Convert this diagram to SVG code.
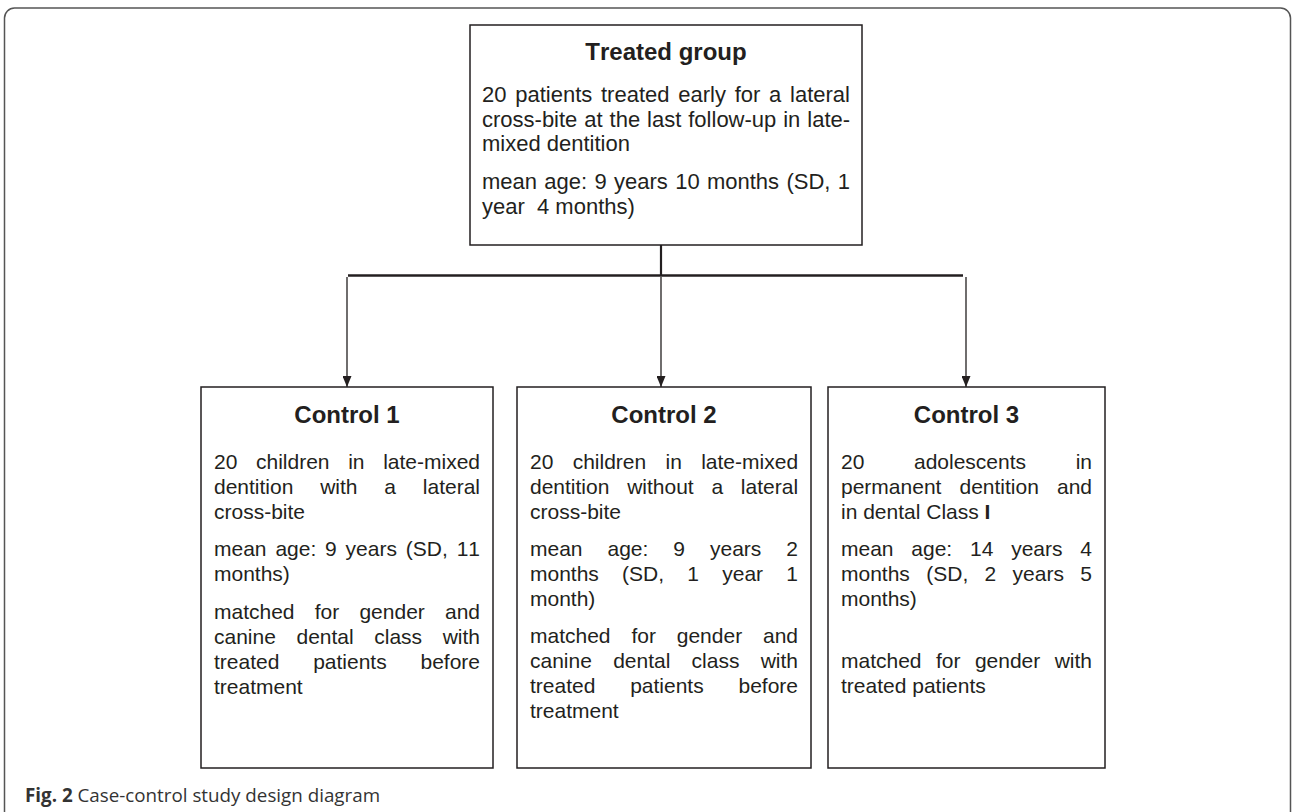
<svg xmlns="http://www.w3.org/2000/svg" width="1292" height="812" viewBox="0 0 1292 812">
<defs>
<marker id="ah" markerUnits="userSpaceOnUse" markerWidth="11" markerHeight="9" refX="11" refY="4.5" orient="auto">
<path d="M0,0 L11,4.5 L0,9 z" fill="#231f20"/>
</marker>
<style>
.box{fill:#fff;stroke:#231f20;stroke-width:1.5}
.t{font-family:"Liberation Sans",Arial,sans-serif;font-weight:bold;font-size:24px;fill:#231f20;text-anchor:middle;font-kerning:none}
.b{font-family:"Liberation Sans",Arial,sans-serif;font-size:21px;fill:#231f20;font-kerning:none}
.b22{font-family:"Liberation Sans",Arial,sans-serif;font-size:22px;fill:#231f20;font-kerning:none}
.cn{stroke:#231f20;fill:none}
.cap{font-family:"Open Sans","Noto Sans",sans-serif;font-size:18.8px;fill:#333}
</style>
</defs>
<rect x="4.5" y="8" width="1286" height="820" rx="10" fill="#fff" stroke="#555" stroke-width="1.5"/>
<g id="connectors">
<line class="cn" x1="661" y1="245" x2="661" y2="276" stroke-width="2.2"/>
<line class="cn" x1="348" y1="275.5" x2="963" y2="275.5" stroke-width="2.6"/>
<line class="cn" x1="347" y1="277" x2="347" y2="387" stroke-width="1.3" marker-end="url(#ah)"/>
<line class="cn" x1="661" y1="277" x2="661" y2="387" stroke-width="1.3" marker-end="url(#ah)"/>
<line class="cn" x1="966" y1="277" x2="966" y2="387" stroke-width="1.3" marker-end="url(#ah)"/>
</g>
<g id="treated">
<rect class="box" x="470" y="25" width="392" height="220"/>
<text class="t" x="666" y="60">Treated group</text>
<text class="b22" x="482" y="102" word-spacing="2.63">20 patients treated early for a lateral</text>
<text class="b22" x="482" y="127" word-spacing="0.82">cross-bite at the last follow-up in late-</text>
<text class="b22" x="482" y="151">mixed dentition</text>
<text class="b22" x="482" y="189" word-spacing="1.21">mean age: 9 years 10 months (SD, 1</text>
<text class="b22" x="482" y="214">year&#160; 4 months)</text>
</g>
<g id="control1">
<rect class="box" x="201" y="387" width="292" height="381"/>
<text class="t" x="347" y="423">Control 1</text>
<text class="b" x="214" y="469" word-spacing="12.81">20 children in late-mixed</text>
<text class="b" x="214" y="494" word-spacing="20.97">dentition with a lateral</text>
<text class="b" x="214" y="519">cross-bite</text>
<text class="b" x="214" y="556" word-spacing="3.01">mean age: 9 years (SD, 11</text>
<text class="b" x="214" y="581">months)</text>
<text class="b" x="214" y="619" word-spacing="14.35">matched for gender and</text>
<text class="b" x="214" y="644" word-spacing="14.75">canine dental class with</text>
<text class="b" x="214" y="669" word-spacing="27.94">treated patients before</text>
<text class="b" x="214" y="694">treatment</text>
</g>
<g id="control2">
<rect class="box" x="517" y="387" width="294" height="381"/>
<text class="t" x="664" y="423">Control 2</text>
<text class="b" x="530" y="469" word-spacing="13.48">20 children in late-mixed</text>
<text class="b" x="530" y="494" word-spacing="11.91">dentition without a lateral</text>
<text class="b" x="530" y="519">cross-bite</text>
<text class="b" x="530" y="556" word-spacing="19.14">mean age: 9 years 2</text>
<text class="b" x="530" y="581" word-spacing="17.40">months (SD, 1 year 1</text>
<text class="b" x="530" y="606">month)</text>
<text class="b" x="530" y="643" word-spacing="15.02">matched for gender and</text>
<text class="b" x="530" y="668" word-spacing="15.41">canine dental class with</text>
<text class="b" x="530" y="693" word-spacing="28.94">treated patients before</text>
<text class="b" x="530" y="718">treatment</text>
</g>
<g id="control3">
<rect class="box" x="828" y="387" width="277" height="381"/>
<text class="t" x="966.5" y="423">Control 3</text>
<text class="b" x="841" y="469" word-spacing="43.79">20 adolescents in</text>
<text class="b" x="841" y="494" word-spacing="12.27">permanent dentition and</text>
<text class="b" x="841" y="519">in dental Class <tspan font-weight="bold">I</tspan></text>
<text class="b" x="841" y="556" word-spacing="11.97">mean age: 14 years 4</text>
<text class="b" x="841" y="581" word-spacing="10.52">months (SD, 2 years 5</text>
<text class="b" x="841" y="606">months)</text>
<text class="b" x="841" y="668" word-spacing="8.58">matched for gender with</text>
<text class="b" x="841" y="693">treated patients</text>
</g>
<text class="cap" x="25" y="802"><tspan font-weight="bold">Fig. 2</tspan> Case-control study design diagram</text>
</svg>
